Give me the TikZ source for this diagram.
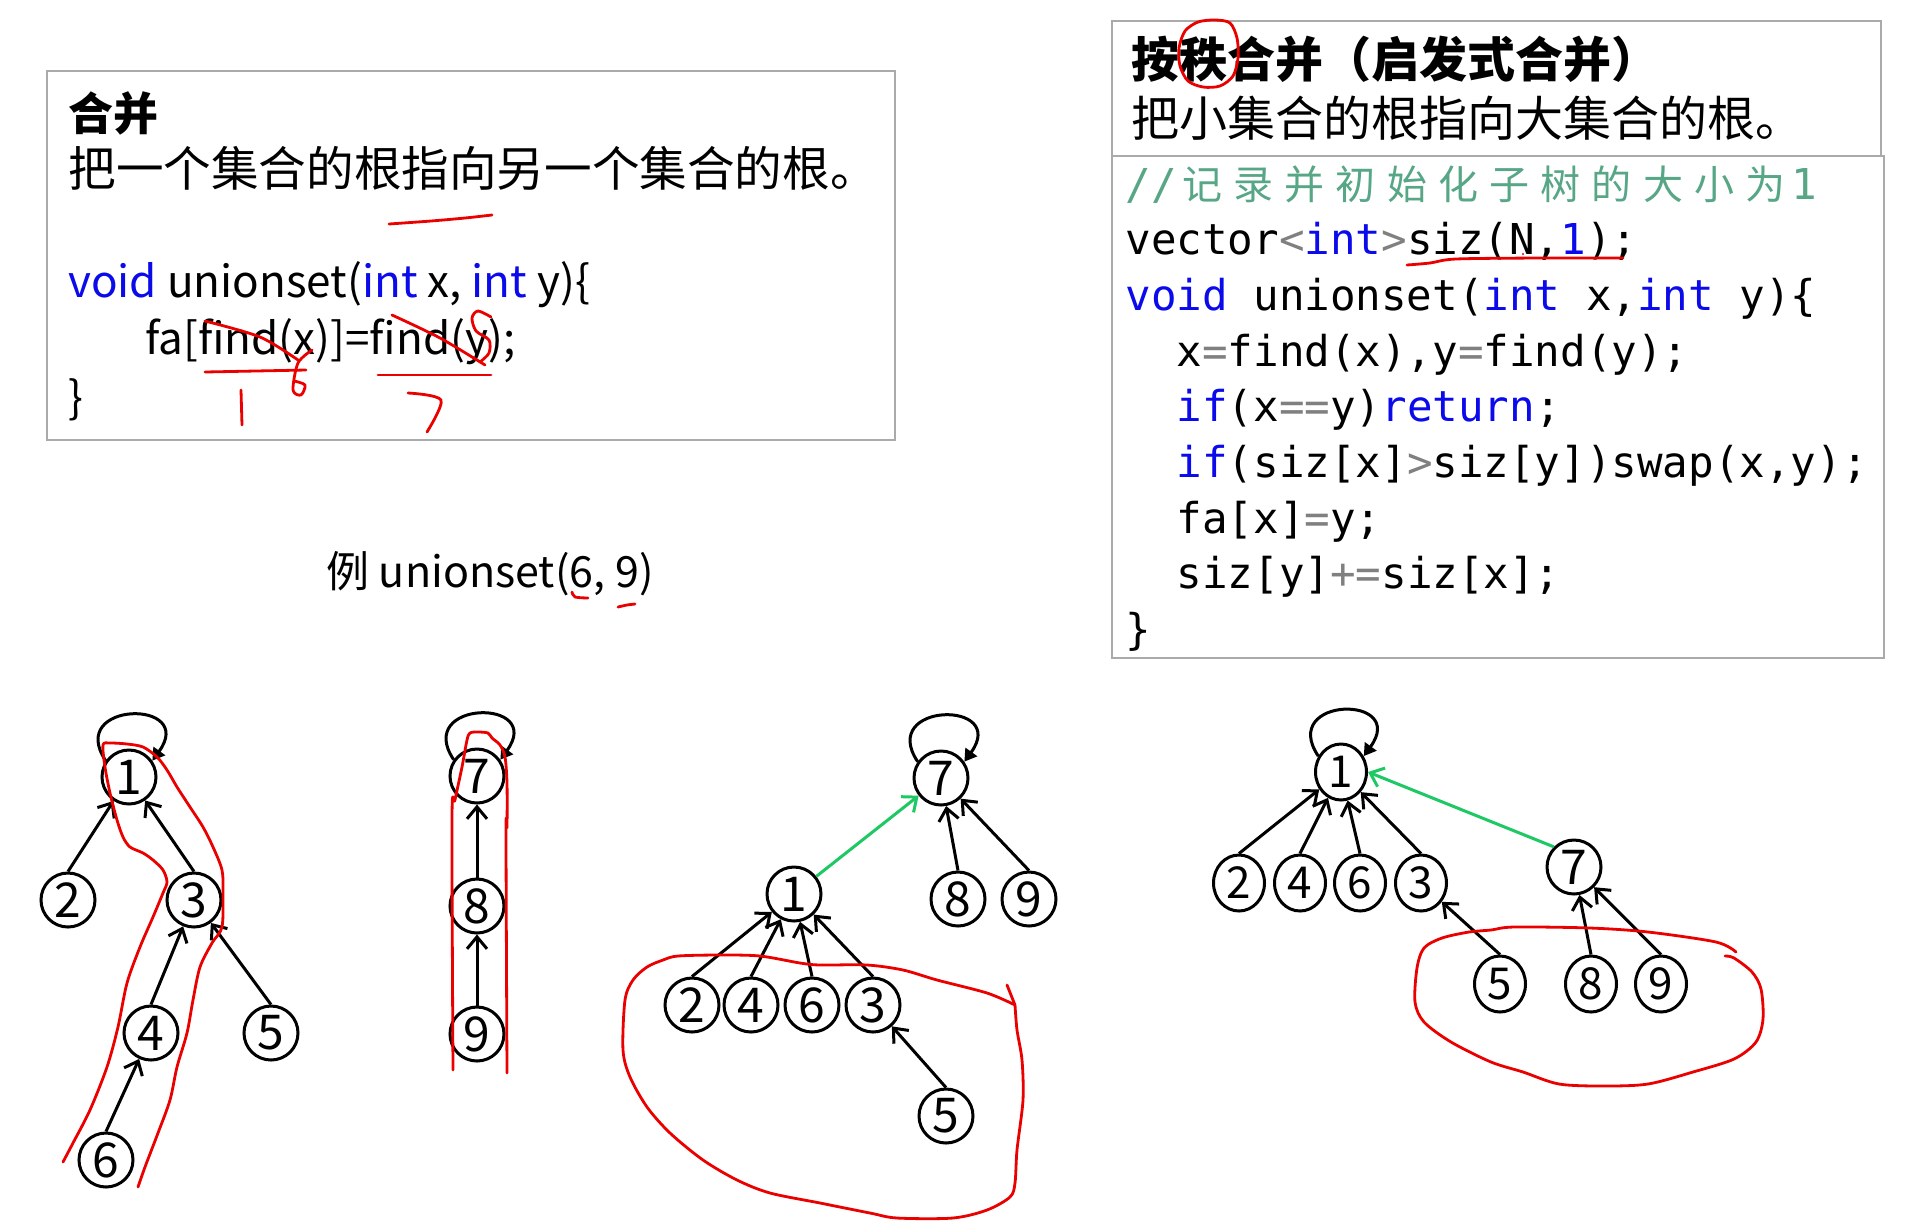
\documentclass[tikz,border=0pt]{standalone}
\usepackage{fontspec}
\setmainfont{Noto Sans CJK SC}
\newfontfamily\cjk{Noto Sans CJK SC}
\newfontfamily\mono{DejaVu Sans Mono}
\usetikzlibrary{arrows.meta,shapes.geometric}
\definecolor{kw}{RGB}{10,10,235}
\definecolor{op}{RGB}{128,128,128}
\definecolor{cm}{RGB}{87,166,134}
\definecolor{gr}{RGB}{30,200,100}
\definecolor{bx}{RGB}{170,170,170}
\definecolor{rd}{RGB}{235,0,0}
\newcommand{\cjc}[1]{\makebox[25.6pt][c]{\cjk\fontsize{20pt}{20pt}\selectfont #1}}
\begin{document}
\begin{tikzpicture}[x=0.5pt,y=-0.5pt,
  nd/.style={circle,draw,line width=1.5pt,minimum size=27pt,inner sep=0pt,font=\fontsize{24pt}{24pt}\selectfont},
  ne/.style={ellipse,draw,line width=1.5pt,minimum width=25.5pt,minimum height=28pt,inner sep=0pt,font=\fontsize{22pt}{22pt}\selectfont},
  tedge/.style={line width=1.5pt,-{Straight Barb[length=6pt,width=10pt]}},
  gedge/.style={tedge,draw=gr},
  selfloop/.style={line width=1.5pt,-{Triangle[length=6pt,width=7pt]}},
  redink/.style={draw=rd,line width=1.4pt,line cap=round,line join=round},
  boxst/.style={draw=bx,line width=1pt},
  code/.style={anchor=base west,inner sep=0pt,font=\mono\fontsize{21.26pt}{21.26pt}\selectfont},
  lcode/.style={anchor=west,inner sep=0pt,font=\fontsize{22pt}{22pt}\selectfont},
  ]
\useasboundingbox[fill=white] (0,0) rectangle (1928,1228);

% boxes
\draw[boxst] (47,71) rectangle (895,440);
\draw[boxst] (1112,21) rectangle (1881,156);
\draw[boxst] (1112,156) rectangle (1884,658);

% left box text
\node[anchor=west,inner sep=0pt,font=\bfseries\fontsize{22.5pt}{22.5pt}\selectfont] (t1) at (68,113) {合并};
\node[anchor=west,inner sep=0pt,font=\fontsize{23.8pt}{23.8pt}\selectfont] (t2) at (68,168) {把一个集合的根指向另一个集合的根。};
\node[lcode] (l1) at (68,285) {\textcolor{kw}{void} unionset(\textcolor{kw}{int} x, \textcolor{kw}{int} y)\{};
\node[lcode] (l2) at (145,342) {fa[find(x)]=find(y);};
\node[lcode] (l3) at (68,400) {\}};

\node[anchor=west,inner sep=0pt,font=\fontsize{21.5pt}{21.5pt}\selectfont] (ex) at (326,574) {例 unionset(6, 9)};

% right box text
\node[anchor=west,inner sep=0pt,font=\bfseries\fontsize{24pt}{24pt}\selectfont] (r1) at (1131,59) {按秩合并（启发式合并）};
\node[anchor=west,inner sep=0pt,font=\fontsize{24pt}{24pt}\selectfont] (r2) at (1131,118) {把小集合的根指向大集合的根。};

\node[code] (c01) at (1125,199) {\textcolor{cm}{//\cjc{记}\cjc{录}\cjc{并}\cjc{初}\cjc{始}\cjc{化}\cjc{子}\cjc{树}\cjc{的}\cjc{大}\cjc{小}\cjc{为}1}};
\node[code] (c02) at (1125,254.7) {vector\textcolor{op}{<}\textcolor{kw}{int}\textcolor{op}{>}siz(N,\textcolor{kw}{1});};
\node[code] (c03) at (1125,310.4) {\textcolor{kw}{void} unionset(\textcolor{kw}{int} x,\textcolor{kw}{int} y)\{};
\node[code] (c04) at (1176.2,366.1) {x\textcolor{op}{=}find(x),y\textcolor{op}{=}find(y);};
\node[code] (c05) at (1176.2,421.8) {\textcolor{kw}{if}(x\textcolor{op}{==}y)\textcolor{kw}{return};};
\node[code] (c06) at (1176.2,477.5) {\textcolor{kw}{if}(siz[x]\textcolor{op}{>}siz[y])swap(x,y);};
\node[code] (c07) at (1176.2,533.2) {fa[x]\textcolor{op}{=}y;};
\node[code] (c08) at (1176.2,588.9) {siz[y]\textcolor{op}{+=}siz[x];};
\node[code] (c09) at (1125,644.6) {\}};

% tree 1
\node[nd] (a1) at (129,777) {1};
\node[nd] (a2) at (68,900) {2};
\node[nd] (a3) at (194,900) {3};
\node[nd] (a4) at (151,1033) {4};
\node[nd] (a5) at (271,1033) {5};
\node[nd] (a6) at (106,1160) {6};
\draw[tedge] (a2.north) -- (a1);
\draw[tedge] (a3.north) -- (a1);
\draw[tedge] (a4.north) -- (a3);
\draw[tedge] (a5.north) -- (a3);
\draw[tedge] (a6.north) -- (a4);
\draw[selfloop] (a1.145) .. controls +(-40,-60) and +(45,-62) .. (a1.35);

% tree 2
\node[nd] (b7) at (477,776) {7};
\node[nd] (b8) at (477,906) {8};
\node[nd] (b9) at (477,1034) {9};
\draw[tedge] (b8.north) -- (b7);
\draw[tedge] (b9.north) -- (b8);
\draw[selfloop] (b7.145) .. controls +(-40,-60) and +(45,-62) .. (b7.35);

% tree 3
\node[nd] (c7) at (941,778) {7};
\node[nd] (c1) at (794,894) {1};
\node[nd] (c8) at (958,899) {8};
\node[nd] (c9) at (1029,899) {9};
\node[nd] (c2) at (692,1005) {2};
\node[nd] (c4) at (751,1005) {4};
\node[nd] (c6) at (812,1005) {6};
\node[nd] (c3) at (873,1005) {3};
\node[nd] (c5) at (946,1116) {5};
\draw[tedge] (c8.north) -- (c7);
\draw[tedge] (c9.north) -- (c7);
\draw[tedge] (c2.north) -- (c1);
\draw[tedge] (c4.north) -- (c1);
\draw[tedge] (c6.north) -- (c1);
\draw[tedge] (c3.north) -- (c1);
\draw[tedge] (c5.north) -- (c3);
\draw[gedge] (c1) -- (c7);
\draw[selfloop] (c7.145) .. controls +(-40,-60) and +(45,-62) .. (c7.35);

% tree 4
\node[ne] (d1) at (1341,772) {1};
\node[ne] (d2) at (1239,883) {2};
\node[ne] (d4) at (1300,883) {4};
\node[ne] (d6) at (1360,883) {6};
\node[ne] (d3) at (1421,883) {3};
\node[nd] (d7) at (1574,867) {7};
\node[ne] (d5) at (1500,984) {5};
\node[ne] (d8) at (1591,984) {8};
\node[ne] (d9) at (1661,984) {9};
\draw[tedge] (d2.north) -- (d1);
\draw[tedge] (d4.north) -- (d1);
\draw[tedge] (d6.north) -- (d1);
\draw[tedge] (d3.north) -- (d1);
\draw[tedge] (d5.north) -- (d3);
\draw[tedge] (d8.north) -- (d7);
\draw[tedge] (d9.north) -- (d7);
\draw[gedge] (d7.135) -- (d1.east);
\draw[selfloop] (d1.145) .. controls +(-40,-60) and +(45,-62) .. (d1.35);

% red annotations: left box
\draw[redink] plot[smooth] coordinates {(389,224) (431,221) (465,218) (492,215)};
\draw[redink] plot[smooth] coordinates {(205,321) (260,337) (298,360)};
\draw[redink] plot[smooth] coordinates {(312,350) (298,363) (293,390) (301,395) (305,385) (294,381)};
\draw[redink] (205,372) -- (306,370);
\draw[redink] (241,390) -- (242,425);
\draw[redink] plot[smooth] coordinates {(392,315) (440,338) (485,365)};
\draw[redink] plot[smooth] coordinates {(491,317) (478,311) (472,318) (476,331) (489,340) (489,353) (480,362)};
\draw[redink] (378,375) -- (491,375);
\draw[redink] plot[smooth] coordinates {(408,393) (441,400) (427,432)};
% example underlines
\draw[redink] plot[smooth] coordinates {(572,592) (575,597) (588,598)};
\draw[redink] plot[smooth] coordinates {(618,607) (627,605) (635,604)};
% right box
\draw[redink] plot[smooth cycle] coordinates {(1215,20) (1230,23) (1237,38) (1238,58) (1233,76) (1220,86) (1203,87) (1188,81) (1180,66) (1179,48) (1185,31) (1198,22)};
\draw[redink] plot[smooth] coordinates {(1407,265) (1430,263) (1456,259) (1540,258) (1623,258)};
\fill[rd] (1523,254) circle (1.2);

% red: tree 1
\draw[redink] plot[smooth,tension=0.5] coordinates {(63,1162) (73,1143) (90,1110) (107,1067) (118,1027) (127,983) (140,947) (153,917) (163,893) (167,882) (163,870) (153,860) (143,853) (130,847) (123,837) (117,820) (110,793) (105,767) (103,745) (110,743) (127,744) (143,747) (157,757) (167,770) (177,787) (190,807) (203,827) (213,847) (222,870) (223,893) (222,927) (212,943) (200,967) (193,1000) (187,1033) (177,1067) (170,1100) (158,1133) (145,1167) (138,1187)};
% red: tree 2
\draw[redink] plot[smooth,tension=0.5] coordinates {(453,1070) (452,817) (455,800) (462,767) (467,740) (470,733) (478,732) (488,733) (492,738) (500,745) (505,757) (507,783) (507,827) (506,833) (507,1073)};
% red: tree 3
\draw[redink] (1007,985) -- (1015,1005);
\draw[redink] plot[smooth,tension=0.5] coordinates {(1015,1005) (1017,1030) (1022,1060) (1023,1100) (1017,1150) (1015,1183) (1010,1197) (987,1210) (953,1218) (897,1218) (870,1213) (820,1203) (770,1193) (737,1180) (703,1160) (670,1133) (647,1107) (630,1077) (623,1050) (625,1000) (633,980) (647,967) (663,960) (678,956) (720,955) (760,956) (800,963) (820,965) (867,965) (903,970) (937,980) (987,993) (1015,1005)};
% red: tree 4
\draw[redink] plot[smooth,tension=0.5] coordinates {(1736,952) (1716,942) (1648,932) (1590,928) (1514,927) (1491,930) (1469,932) (1442,938) (1424,948) (1417,968) (1415,1002) (1424,1022) (1451,1042) (1491,1062) (1523,1072) (1559,1084) (1604,1086) (1648,1084) (1693,1072) (1734,1059) (1756,1042) (1763,1019) (1761,989) (1752,972) (1734,958) (1725,956)};
\end{tikzpicture}
\end{document}
